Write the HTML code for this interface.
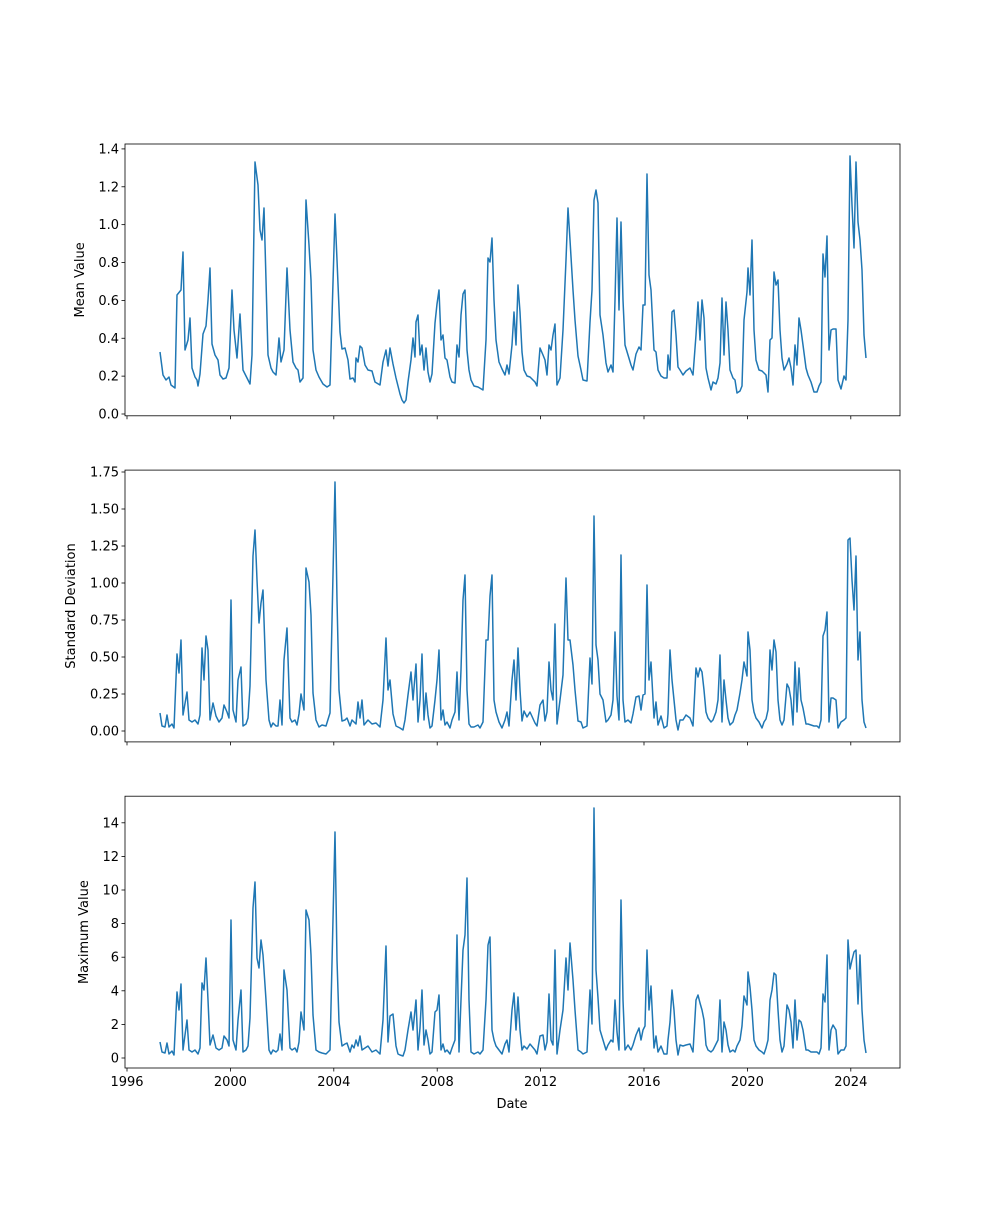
<!DOCTYPE html>
<html><head><meta charset="utf-8"><style>
html,body{margin:0;padding:0;background:#fff}
svg text{font-family:"DejaVu Sans","Liberation Sans",sans-serif;font-size:13px;fill:#000}
</style></head><body>
<svg id="s" width="1000" height="1200" xmlns="http://www.w3.org/2000/svg"></svg>
<script>
const s=document.getElementById('s');const NS='http://www.w3.org/2000/svg';
function el(t,a,txt){const e=document.createElementNS(NS,t);for(const k in a)e.setAttribute(k,a[k]);if(txt!==undefined)e.textContent=txt;s.appendChild(e);return e;}
const L=125,R=900;
const panels=[
 {top:144,bot:415.8,y0:414,step:37.87,labels:['0.0','0.2','0.4','0.6','0.8','1.0','1.2','1.4'],title:'Mean Value',
 d:"160,352 163,375 166,380 169,377 171,385 175,388 177,295 181,290 183,252 185,350 188,340 190,318 192,368 195,377 197,380 198,386 200,374 203,334 206,326 208,300 210,268 212,344 215,355 218,360 220,375 223,379 226,378 229,368 232,290 234,330 237,358 240,314 243,370 247,378 250,384 252,355 255,162 258,185 260,230 262,240 264,208 266,280 268,355 271,368 273,372 276,375 279,338 281,362 284,350 287,268 290,330 293,362 296,368 298,370 300,382 303,378 306,200 309,245 311,280 313,350 316,370 319,377 323,384 327,387 330,385 335,214 337,260 340,332 342,349 345,348 348,360 350,379 353,378 355,382 356,358 358,362 360,346 362,348 365,365 368,370 372,371 375,382 380,385 383,362 386,350 388,366 390,348 393,364 396,378 398,386 400,394 402,400 404,403 406,400 408,382 411,360 413,338 415,357 416,322 418,315 420,355 422,345 424,370 426,348 428,372 430,382 432,374 435,323 437,304 439,290 441,340 443,335 445,358 447,360 450,377 452,382 455,383 457,345 459,357 461,315 463,294 465,290 467,350 469,370 471,380 474,386 478,387 483,390 486,340 488,258 490,262 492,238 494,300 496,340 499,362 502,369 505,375 507,365 509,374 512,345 514,312 516,345 518,285 520,312 522,352 524,370 527,376 530,377 535,382 537,386 540,348 543,355 545,360 547,375 549,345 551,350 553,335 555,324 557,385 560,378 563,330 566,260 568,208 570,240 573,290 575,320 578,356 581,370 583,380 587,381 590,322 592,290 594,200 596,190 598,203 600,315 603,335 606,363 608,372 611,365 613,372 615,300 617,218 619,310 621,222 623,300 625,345 628,355 631,365 633,370 636,354 639,347 641,350 643,305 645,305 647,174 649,275 651,290 654,350 656,352 658,370 661,376 664,378 667,378 668,355 670,370 672,312 674,310 676,335 678,367 680,370 683,375 686,371 690,368 693,375 696,335 698,302 700,340 702,300 704,318 706,368 708,378 711,390 713,382 716,384 718,378 720,363 722,298 724,355 726,302 728,330 730,370 733,378 735,380 737,393 740,391 742,386 744,320 747,292 748,268 750,295 752,240 754,330 756,360 759,370 762,371 766,375 768,392 770,340 772,338 774,272 776,285 778,280 780,330 782,358 784,370 787,364 789,358 791,368 793,385 795,345 797,365 799,318 801,330 803,345 806,368 808,375 811,382 814,392 817,392 819,386 821,382 823,254 825,277 827,236 829,350 831,330 833,329 836,329 838,380 841,389 844,376 846,380 848,320 850,156 852,205 854,248 856,162 858,222 860,240 862,270 864,335 866,358"},
 {top:470.1,bot:741.9,y0:731,step:37,labels:['0.00','0.25','0.50','0.75','1.00','1.25','1.50','1.75'],title:'Standard Deviation',
 d:"160,713 162,726 165,727 167,715 169,727 172,724 174,728 177,654 179,673 181,640 183,715 187,692 189,720 192,722 195,720 198,724 200,715 202,648 204,680 206,636 208,650 210,720 213,703 216,716 219,722 222,718 224,705 227,712 229,718 231,600 233,710 236,722 238,680 241,667 243,726 246,724 248,718 250,686 253,556 255,530 257,580 259,623 261,603 263,590 266,680 269,720 271,727 273,723 276,726 278,726 280,700 282,725 284,660 287,628 290,718 292,722 295,720 297,725 299,714 301,694 304,710 306,568 309,582 311,615 313,693 316,720 319,727 322,725 326,726 330,713 335,482 337,600 339,690 342,721 345,720 347,718 350,726 352,720 354,722 356,724 358,702 360,718 362,700 364,725 368,720 372,724 376,723 380,727 383,700 386,638 388,690 390,680 393,714 396,726 398,727 400,728 403,730 405,720 408,695 411,672 413,700 416,664 418,722 420,700 422,654 424,720 426,693 428,715 430,728 432,726 435,700 437,680 439,650 441,720 443,710 445,725 447,722 450,728 452,720 455,712 457,672 459,720 461,670 463,600 465,575 467,690 469,724 471,727 474,727 478,725 480,728 483,722 486,640 488,640 490,596 492,575 494,700 496,712 499,722 502,728 505,720 507,712 509,726 512,680 514,660 516,700 518,648 520,690 522,721 524,711 527,717 530,712 535,723 537,726 540,705 543,700 545,721 547,712 549,662 551,690 553,700 555,624 557,724 560,700 563,675 566,578 568,640 570,640 573,665 575,690 578,721 581,722 583,728 587,726 590,658 592,684 594,516 596,645 598,660 600,694 603,700 606,722 608,720 611,715 613,700 615,632 617,696 619,720 621,555 623,700 625,722 628,720 631,723 633,714 636,697 639,696 641,710 643,695 645,694 647,585 649,680 651,662 654,718 656,702 658,725 661,716 664,728 667,726 668,714 670,650 672,680 674,700 676,720 678,730 680,720 683,720 686,715 690,718 693,726 696,668 698,677 700,668 702,672 704,690 706,712 708,718 711,722 713,720 716,712 718,700 720,655 722,722 724,680 726,700 728,718 730,725 733,722 735,715 737,710 740,693 742,680 744,662 747,676 748,632 750,650 752,700 754,712 756,718 759,722 762,728 764,722 766,719 768,710 770,650 772,670 774,640 776,652 778,700 780,720 782,725 784,720 787,684 789,688 791,700 793,725 795,662 797,712 799,668 801,700 803,708 806,724 808,724 811,725 814,726 817,726 819,728 821,720 823,636 825,630 827,612 829,722 831,698 833,698 836,700 838,728 841,722 844,720 846,718 848,540 850,538 852,580 854,610 856,556 858,660 860,632 862,700 864,722 866,728"},
 {top:796.2,bot:1068,y0:1058,step:33.6,labels:['0','2','4','6','8','10','12','14'],title:'Maximum Value',
 d:"160,1042 162,1052 165,1053 167,1043 169,1054 172,1051 174,1055 177,992 179,1010 181,984 183,1050 187,1020 189,1050 192,1052 195,1050 198,1054 200,1048 202,983 204,990 206,958 208,1000 210,1045 213,1035 216,1048 219,1050 222,1048 224,1036 227,1040 229,1046 231,920 233,1040 236,1050 238,1020 241,990 243,1052 246,1050 248,1046 250,1018 253,908 255,882 257,958 259,968 261,940 263,955 266,1000 269,1050 271,1054 273,1050 276,1052 278,1050 280,1034 282,1050 284,970 287,990 290,1048 292,1050 295,1048 297,1052 299,1042 301,1012 304,1030 306,910 309,920 311,955 313,1015 316,1050 319,1052 322,1053 326,1054 330,1050 335,832 337,960 339,1022 342,1046 345,1044 347,1043 350,1052 352,1045 354,1048 356,1040 358,1046 360,1036 362,1050 368,1046 372,1052 376,1050 380,1054 383,1020 386,946 388,1042 390,1016 393,1014 396,1046 398,1054 400,1055 403,1056 405,1050 408,1030 411,1012 413,1030 416,1000 418,1050 420,1028 422,990 424,1045 426,1030 428,1040 430,1054 432,1052 435,1012 437,1010 439,995 441,1050 443,1044 445,1052 447,1050 450,1054 452,1048 455,1040 457,935 459,1052 461,1000 463,950 465,935 467,878 469,1000 471,1052 474,1054 478,1052 480,1054 483,1050 486,1000 488,945 490,937 492,1030 494,1040 496,1046 499,1050 502,1054 505,1044 507,1040 509,1052 512,1010 514,993 516,1030 518,997 520,1030 522,1050 524,1046 527,1049 530,1044 535,1050 537,1054 540,1036 543,1035 545,1050 547,1042 549,994 551,1040 553,1045 555,950 557,1054 560,1030 563,1010 566,958 568,990 570,943 573,980 575,1010 578,1050 581,1052 583,1054 587,1052 590,990 592,1024 594,808 596,970 598,998 600,1030 603,1040 606,1050 608,1045 611,1040 613,1042 615,1000 617,1032 619,1050 621,900 623,1000 625,1050 628,1045 631,1050 633,1045 636,1035 639,1028 641,1040 643,1030 645,1026 647,950 649,1010 651,986 654,1048 656,1036 658,1052 661,1046 664,1054 667,1054 668,1040 670,1022 672,990 674,1010 676,1040 678,1055 680,1045 683,1046 686,1045 690,1044 693,1052 696,1000 698,995 700,1003 702,1010 704,1020 706,1045 708,1050 711,1052 713,1050 716,1044 718,1040 720,1000 722,1052 724,1022 726,1030 728,1045 730,1052 733,1050 735,1052 737,1046 740,1040 742,1026 744,996 747,1005 748,972 750,987 752,1010 754,1040 756,1046 759,1050 762,1052 764,1054 766,1048 768,1040 770,1000 772,990 774,973 776,975 778,1010 780,1040 782,1052 784,1046 787,1005 789,1010 791,1022 793,1048 795,1000 797,1040 799,1020 801,1022 803,1030 806,1050 808,1050 811,1052 814,1052 817,1052 819,1054 821,1048 823,994 825,1002 827,955 829,1050 831,1030 833,1025 836,1030 838,1054 841,1050 844,1050 846,1046 848,940 850,969 852,960 854,952 856,950 858,1004 860,955 862,1010 864,1040 866,1053"}
];
const years=['1996','2000','2004','2008','2012','2016','2020','2024'];
panels.forEach((p,i)=>{
 el('polyline',{points:p.d,fill:'none',stroke:'#1f77b4','stroke-width':1.5,'stroke-linejoin':'round'});
 el('rect',{x:L,y:p.top,width:R-L,height:p.bot-p.top,fill:'none',stroke:'#000','stroke-width':0.8});
 p.labels.forEach((lb,k)=>{const y=p.y0-k*p.step;
  el('line',{x1:L-3.5,x2:L,y1:y,y2:y,stroke:'#000','stroke-width':0.8});
  el('text',{x:L-6,y:y+4.5,'text-anchor':'end'},lb);});
 years.forEach((yr,k)=>{const x=127+103.4*k;
  el('line',{x1:x,x2:x,y1:p.bot,y2:p.bot+3.5,stroke:'#000','stroke-width':0.8});
  if(i==2)el('text',{x:x,y:p.bot+18,'text-anchor':'middle'},yr);});
 const cy=(p.top+p.bot)/2;
 el('text',{x:0,y:0,'text-anchor':'middle',transform:`translate(${i==2?88:i==1?75:84},${cy}) rotate(-90)`},p.title);
});
el('text',{x:512,y:1108,'text-anchor':'middle'},'Date');
</script>
</body></html>
